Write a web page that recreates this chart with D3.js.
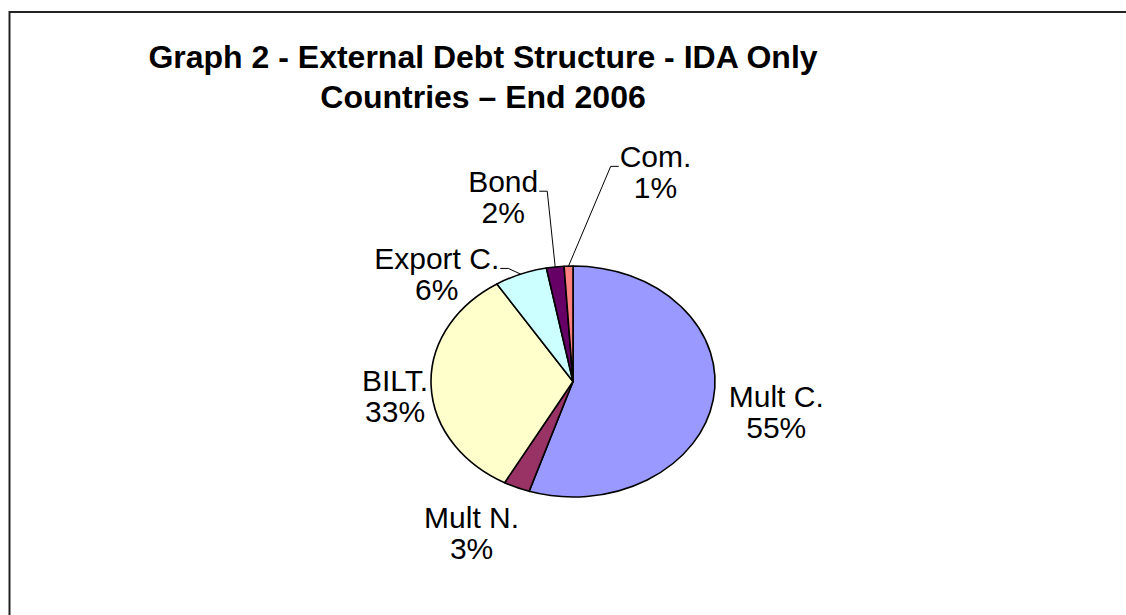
<!DOCTYPE html>
<html>
<head>
<meta charset="utf-8">
<script src="https://cdn.jsdelivr.net/npm/d3@7/dist/d3.min.js"></script>
<style>
  body { margin: 0; background: #fff; }
  text { font-family: Arial, "Liberation Sans", sans-serif; fill: #000; }
</style>
</head>
<body>
<div id="chart"></div>
<script>
// data, clockwise from 12 o'clock
var categories = ["Mult C.", "Mult N.", "BILT.", "Export C.", "Bond", "Com."];
var shares = [55, 3, 33, 6, 2, 1];
var titleLines = ["Graph 2 - External Debt Structure - IDA Only", "Countries \u2013 End 2006"];

var colors = ["#9999FF", "#993366", "#FFFFCC", "#CCFFFF", "#660066", "#FF8080"];

// label offsets from the slice's outer edge midpoint (label block centre)
var labelOffsets = [[63, 12], [-45, 45], [-36, 11], [-84, 0], [-52, -70], [87, -94]];
var hasLeader = [false, false, false, true, true, true];

var width = 1126, height = 615;
var cx = 573, cy = 381.5, rx = 142, ry = 115.5;
var fontSize = 30, lineH = 31;

var svg = d3.select("#chart").append("svg")
    .attr("width", width)
    .attr("height", height);

// chart frame (runs off the right / bottom of the page)
svg.append("path")
    .attr("d", "M9.5," + height + "V12H" + width)
    .attr("fill", "none")
    .attr("stroke", "#222")
    .attr("stroke-width", 2);

// title
var title = svg.append("text")
    .attr("x", 483)
    .attr("y", 68)
    .attr("text-anchor", "middle")
    .style("font-size", "32px")
    .style("font-weight", "bold");
title.selectAll("tspan")
    .data(titleLines)
    .enter().append("tspan")
    .attr("x", 483)
    .attr("dy", function(d, i) { return i ? 40 : 0; })
    .text(function(d) { return d; });

var data = categories.map(function(c, i) { return {name: c, value: shares[i], i: i}; });

var pie = d3.pie()
    .sort(null)
    .value(function(d) { return d.value; });

var arcs = pie(data);

var r = 100;
var arc = d3.arc().innerRadius(0).outerRadius(r);

var g = svg.append("g")
    .attr("transform", "translate(" + cx + "," + cy + ") scale(" + (rx / r) + "," + (ry / r) + ")");

g.selectAll("path")
    .data(arcs)
    .enter().append("path")
    .attr("d", arc)
    .attr("fill", function(d) { return colors[d.data.i]; })
    .attr("stroke", "#000")
    .attr("stroke-width", 1.6)
    .attr("stroke-linejoin", "round")
    .attr("vector-effect", "non-scaling-stroke");

function edgePoint(d) {
    var a = (d.startAngle + d.endAngle) / 2;
    return [cx + rx * Math.sin(a), cy - ry * Math.cos(a)];
}

var labels = svg.append("g");

arcs.forEach(function(d) {
    var i = d.data.i;
    var p = edgePoint(d);
    var lx = p[0] + labelOffsets[i][0];
    var ly = p[1] + labelOffsets[i][1];
    var base1 = ly - lineH / 2 + fontSize * 0.36;

    var t = labels.append("text")
        .attr("text-anchor", "middle")
        .style("font-size", fontSize + "px");
    t.append("tspan").attr("x", lx).attr("y", base1).text(d.data.name);
    t.append("tspan").attr("x", lx).attr("y", base1 + lineH).text(Math.round(d.data.value) + "%");

    if (hasLeader[i]) {
        var w = t.select("tspan").node().getComputedTextLength();
        var side = p[0] > lx ? 1 : -1;
        var sx = lx + side * (w / 2 + 1);
        var sy = base1 - 1;
        labels.append("polyline")
            .attr("points", [[sx, sy], [sx + side * 8, sy], p].map(function(q) { return q.join(","); }).join(" "))
            .attr("fill", "none")
            .attr("stroke", "#000")
            .attr("stroke-width", 1);
    }
});
</script>
</body>
</html>
